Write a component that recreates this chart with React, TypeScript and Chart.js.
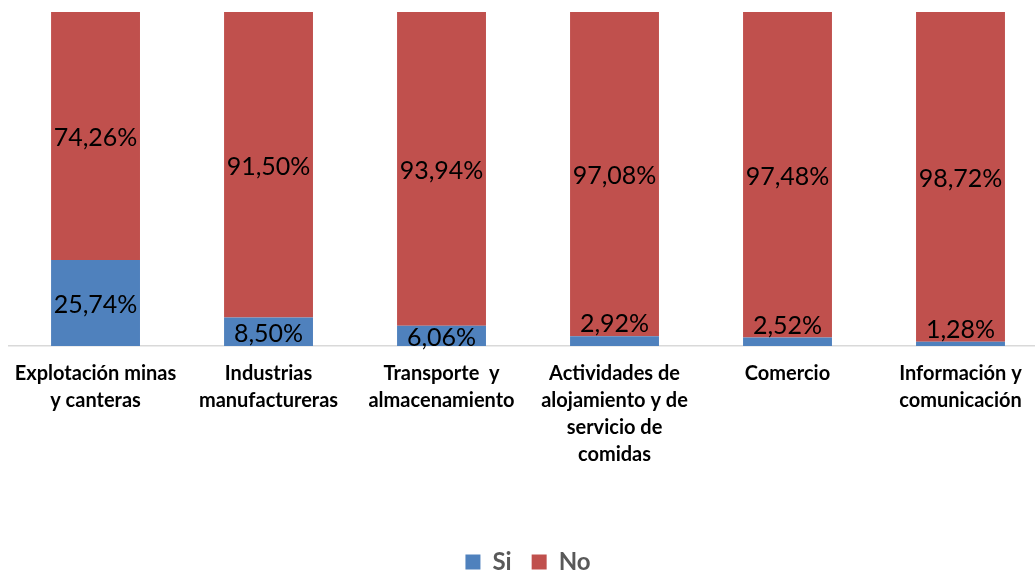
import React, { useEffect, useRef } from "react";
import { Chart, registerables } from "chart.js";

Chart.register(...registerables);

const categories: string[][] = [
  ["Explotación minas", "y canteras"],
  ["Industrias", "manufactureras"],
  ["Transporte  y", "almacenamiento"],
  ["Actividades de", "alojamiento y de", "servicio de", "comidas"],
  ["Comercio"],
  ["Información y", "comunicación"],
];
const siValues = [25.74, 8.5, 6.06, 2.92, 2.52, 1.28];
const noValues = [74.26, 91.5, 93.94, 97.08, 97.48, 98.72];

const LABEL_FONT = "25px Lato";
const CANVAS_H = 584;
const LEGEND_H = 55;
const PLOT_BOTTOM = 345;

const labelPlugin = {
  id: "barLabels",
  afterDatasetsDraw(chart: any) {
    const ctx = chart.ctx;
    ctx.save();
    ctx.font = LABEL_FONT;
    ctx.fillStyle = "#000000";
    ctx.textAlign = "center";
    ctx.textBaseline = "middle";
    chart.data.datasets.forEach((ds: any, di: number) => {
      const meta = chart.getDatasetMeta(di);
      meta.data.forEach((el: any, i: number) => {
        const { x, y, base } = el.getProps(["x", "y", "base"], true);
        const h = base - y;
        const v = ds.data[i] as number;
        const txt = v.toFixed(2).replace(".", ",") + "%";
        let ty = (y + base) / 2 + 2;
        if (h < 15) ty = y - 12;
        ctx.fillText(txt, x, ty);
      });
    });
    ctx.restore();
  },
};

export default function App() {
  const ref = useRef<HTMLCanvasElement>(null);
  useEffect(() => {
    if (!ref.current) return;
    const chart = new Chart(ref.current, {
      type: "bar",
      data: {
        labels: categories,
        datasets: [
          { label: "Si", data: siValues, backgroundColor: "#4F81BD", borderWidth: 0 },
          { label: "No", data: noValues, backgroundColor: "#C0504D", borderWidth: 0 },
        ],
      },
      options: {
        animation: false,
        responsive: false,
        maintainAspectRatio: false,
        layout: { padding: { left: 9, right: 0, top: 12, bottom: 0 } },
        datasets: { bar: { categoryPercentage: 1, barPercentage: 0.514 } } as any,
        scales: {
          x: {
            stacked: true,
            grid: { display: false, drawTicks: false },
            border: { display: true, color: "#D9D9D9", width: 1.5 },
            ticks: {
              color: "#000000",
              font: { family: "Lato", size: 20, weight: "bold", lineHeight: "27px" } as any,
              padding: 14,
              maxRotation: 0,
              autoSkip: false,
            },
            afterFit: (scale: any) => {
              scale.height = CANVAS_H - PLOT_BOTTOM - LEGEND_H;
            },
          },
          y: {
            stacked: true,
            display: false,
            min: 0,
            max: 100,
          },
        },
        plugins: {
          legend: {
            position: "bottom",
            labels: {
              color: "#595959",
              font: { family: "Lato", size: 24, weight: "bold" },
              boxWidth: 15,
              boxHeight: 15,
              padding: 20,
            },
          },
          tooltip: { enabled: false },
        },
      },
      plugins: [labelPlugin],
    });
    return () => chart.destroy();
  }, []);
  return (
    <div style={{ position: "fixed", left: 0, top: 0, width: 1035, height: 572, overflow: "hidden", background: "#fff" }}>
      <canvas ref={ref} width={1047} height={CANVAS_H} style={{ display: "block" }} />
    </div>
  );
}
